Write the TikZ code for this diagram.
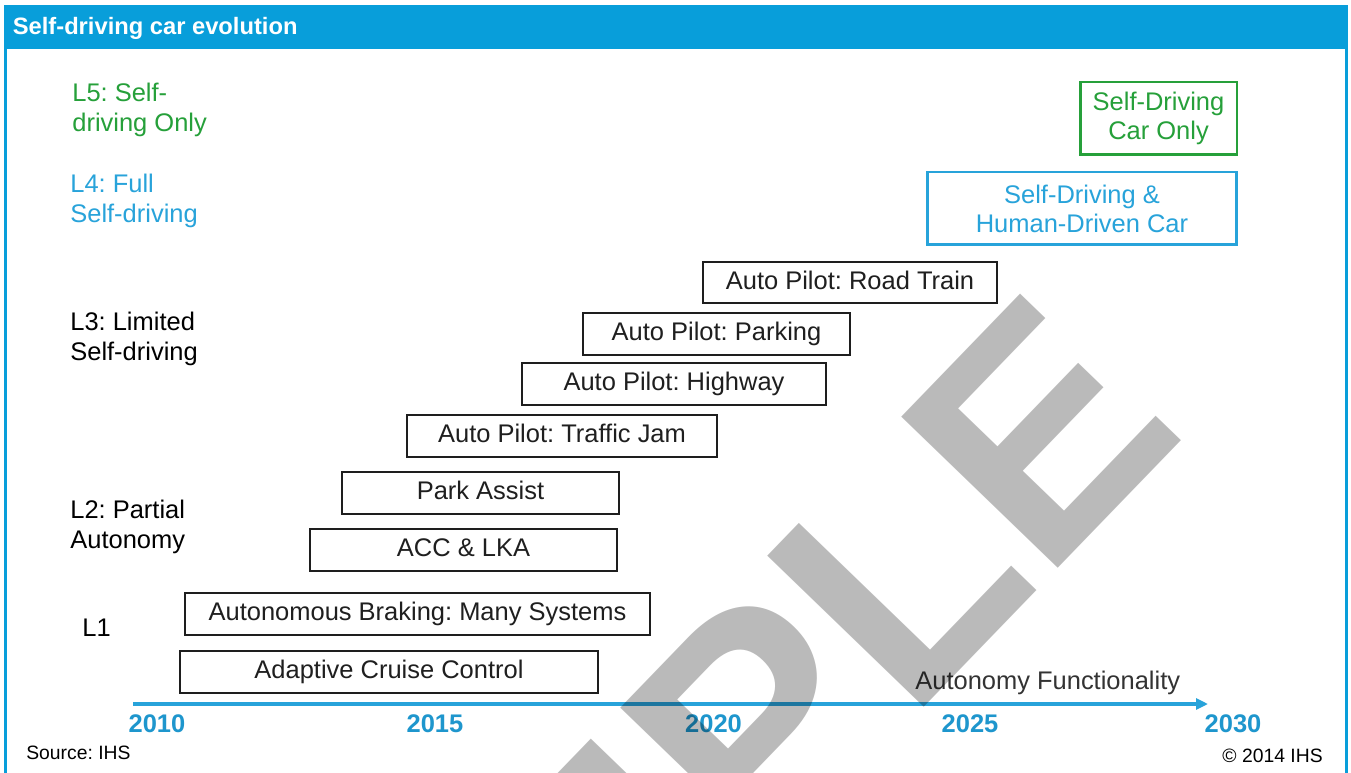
\documentclass[tikz,border=0pt]{standalone}
\usepackage{fontspec}
\setmainfont{Liberation Sans}
\usetikzlibrary{arrows.meta,positioning}
\definecolor{ihsblue}{RGB}{8,158,218}
\definecolor{lvblue}{RGB}{40,163,218}
\definecolor{lvgreen}{RGB}{38,160,58}
\definecolor{yrblue}{RGB}{30,150,205}
\definecolor{boxline}{RGB}{30,30,30}
\tikzset{>={Triangle[width=2.2mm,length=2.4mm]}}
\tikzset{feature/.style={draw=boxline, line width=1.4pt, minimum height=0.84cm, inner sep=0pt, text height=0.92em, text depth=0.18em, text=black!88, font=\fontsize{14.5}{17}\selectfont}}
\tikzset{level/.style={anchor=north west, inner sep=0pt, align=left, font=\fontsize{14.5}{17}\selectfont}}
\tikzset{year/.style={inner sep=0pt, text=yrblue, font=\fontsize{14.5}{17}\selectfont\bfseries}}
\frenchspacing

\begin{document}
\begin{tikzpicture}[x=0.02cm, y=-0.02cm]
  \useasboundingbox (0,0) rectangle (1351,773);
  \clip (0,0) rectangle (1351,773);
  \fill[white] (0,0) rectangle (1351,773);

  % frame + title bar
  \draw[ihsblue, line width=1.7pt] (5.5,30) -- (5.5,790) (1346.5,30) -- (1346.5,790);
  \fill[ihsblue] (4,5) rectangle (1348,49);
  \node(title) [anchor=base west, inner sep=0pt, text=white, font=\fontsize{13.5}{16}\selectfont\bfseries] at (12.5,35) {Self-driving car evolution};

  % levels
  \node(l5) [level, text=lvgreen] at (72,82.6) {L5: Self-\\driving Only};
  \node(l4) [level, text=lvblue] at (70,173.6) {L4: Full\\Self-driving};
  \node(l3) [level] at (70,311.6) {L3: Limited\\Self-driving};
  \node(l2) [level] at (70,499.6) {L2: Partial\\Autonomy};
  \node(l1) [level] at (82,618.6) {L1};

  % features
  \node(caronly) [draw=lvgreen, line width=1.7pt, minimum width=3.14cm, minimum height=1.46cm, align=center, text=lvgreen, font=\fontsize{14.5}{16.5}\selectfont] at (1158.5,118.5) {Self-Driving\\Car Only};
  \node(mixed) [draw=lvblue, line width=1.7pt, minimum width=6.2cm, minimum height=1.46cm, align=center, text=lvblue, font=\fontsize{14.5}{16.5}\selectfont] at (1082,208.5) {Self-Driving \&\\Human-Driven Car};
  \node(roadtrain) [feature, minimum width=5.88cm, minimum height=0.82cm] at (850,282.5) {Auto Pilot: Road Train};
  \node(parking) [feature, minimum width=5.34cm] at (716.5,334) {Auto Pilot: Parking};
  \node(highway) [feature, minimum width=6.08cm] at (674,384) {Auto Pilot: Highway};
  \node(jam) [feature, minimum width=6.2cm] at (562,436) {Auto Pilot: Traffic Jam};
  \node(parkassist) [feature, minimum width=5.54cm] at (480.5,493) {Park Assist};
  \node(acc) [feature, minimum width=6.14cm] at (463.5,550) {ACC \& LKA};
  \node(braking) [feature, minimum width=9.3cm] at (417.5,614) {Autonomous Braking: Many Systems};
  \node(cruise) [feature, minimum width=8.36cm] at (389,672) {Adaptive Cruise Control};

  % time axis
  \coordinate(ax0) at (133,704);
  \coordinate(ax1) at (1208,704);
  \draw [->][draw=lvblue, line width=2pt] (ax0) -- (ax1);
  \node(func) [anchor=base west, inner sep=0pt, text=black!80, font=\fontsize{14.5}{17}\selectfont] at (915,689) {Autonomy Functionality};
  \node(y2010) [year] at (157,724) {2010};
  \node(y2015) [year] at (435,724) {2015};
  \node(y2020) [year] at (713.5,724) {2020};
  \node(y2025) [year] at (970,724) {2025};
  \node(y2030) [year] at (1233,724) {2030};

  \node(src) [anchor=base west, inner sep=0pt, font=\fontsize{11}{13}\selectfont] at (26,759) {Source: IHS};
  \node(copy) [anchor=base east, inner sep=0pt, font=\fontsize{11}{13}\selectfont] at (1323,762) {\textcopyright\ 2014 IHS};

  % watermark
  \node[rotate=46](wm) [anchor=base east, inner sep=0pt, text=black, opacity=0.27, font=\fontsize{180}{180}\selectfont\bfseries] at (1190,432) {SAMPLE};
\end{tikzpicture}
\end{document}
